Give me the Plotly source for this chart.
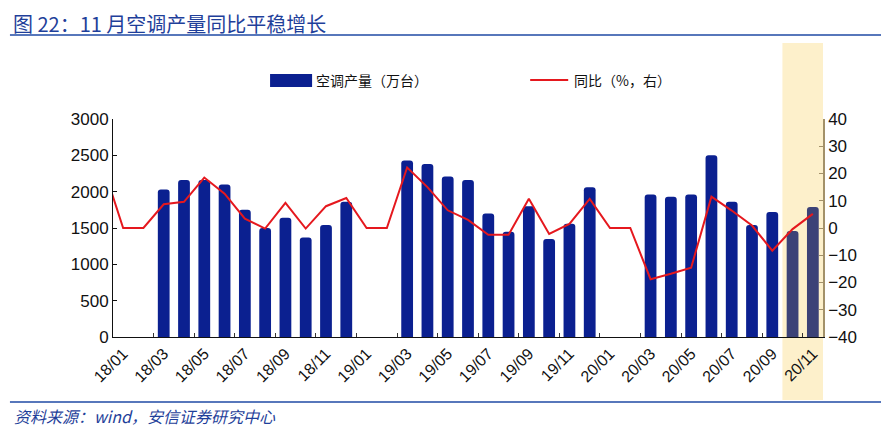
import plotly.graph_objects as go

# ---------------- data ----------------
months = ["17/12",
          "18/01", "18/02", "18/03", "18/04", "18/05", "18/06", "18/07", "18/08", "18/09", "18/10", "18/11", "18/12",
          "19/01", "19/02", "19/03", "19/04", "19/05", "19/06", "19/07", "19/08", "19/09", "19/10", "19/11", "19/12",
          "20/01", "20/02", "20/03", "20/04", "20/05", "20/06", "20/07", "20/08", "20/09", "20/10", "20/11"]

production = [None,
              None, None, 2030, 2160, 2160, 2100, 1750, 1500, 1640, 1370, 1540, 1860,
              None, None, 2430, 2380, 2210, 2160, 1700, 1450, 1800, 1350, 1560, 2060,
              None, None, 1960, 1930, 1960, 2500, 1860, 1540, 1720, 1460, 1790]

yoy = [23.0,
       0, 0, 8.7, 9.6, 18.5, 12.6, 3.4, -0.2, 9.2, -0.2, 8.0, 11.0,
       0, 0, 22.2, 15.0, 6.5, 3.0, -2.5, -2.5, 10.7, -2.2, 1.5, 10.7,
       0, 0, -18.8, -16.8, -14.6, 11.5, 6.4, 0.9, -8.3, -0.4, 5.2]

tick_labels = months[1::2]
highlight_months = ["20/10", "20/11"]

left_ticks = [0, 500, 1000, 1500, 2000, 2500, 3000]
right_ticks = [-40, -30, -20, -10, 0, 10, 20, 30, 40]

bar_name = "空调产量（万台）"
line_name = "同比（%，右）"
title_text = "图 22：11 月空调产量同比平稳增长"
source_text = "资料来源：wind，安信证券研究中心"

# ---------------- styles ----------------
BAR_COLOR = "#0b2090"
BAR_HL_COLOR = "#3c4277"
LINE_COLOR = "#e5181e"
BAND_COLOR = "#fdf0cb"
RIGHT_AXIS_COLOR = "#a39169"
BLUE_TEXT = "#1f3f9a"
LATIN = "Liberation Sans, Arial, sans-serif"
CJK = "Noto Sans CJK SC, sans-serif"

# the page body has an 8px margin; work in reference-pixel coordinates and shift
OFF = 8
W, H = 889 - OFF, 431 - OFF
PLOT_L, PLOT_R, PLOT_T, PLOT_B = 113, 822.7, 119, 337   # reference pixels
ML, MT = PLOT_L - OFF, PLOT_T - OFF
MR, MB = W - (PLOT_R - OFF), H - (PLOT_B - OFF)
PW, PH = PLOT_R - PLOT_L, PLOT_B - PLOT_T


def px(xp):
    return (xp - PLOT_L) / PW


def py(yp):
    return (PLOT_B - yp) / PH


bar_colors = [BAR_HL_COLOR if m in highlight_months else BAR_COLOR for m in months]

fig = go.Figure()
fig.add_trace(go.Bar(
    x=months, y=production, name=bar_name,
    marker=dict(color=bar_colors, cornerradius=3, line=dict(width=0)),
    showlegend=False,
))
fig.add_trace(go.Scatter(
    x=months, y=yoy, name=line_name, yaxis="y2", mode="lines",
    line=dict(color=LINE_COLOR, width=2),
    showlegend=False, cliponaxis=True,
))

hl_idx = [months.index(m) for m in highlight_months]
shapes = [
    dict(type="rect", xref="x", yref="paper",
         x0=min(hl_idx) - 0.5, x1=max(hl_idx) + 0.5,
         y0=py(400), y1=py(43), fillcolor=BAND_COLOR, line=dict(width=0), layer="below"),
    dict(type="line", xref="paper", yref="paper", x0=px(10), x1=px(881), y0=py(35), y1=py(35),
         line=dict(color="#1f4aa5", width=1.5)),
    dict(type="line", xref="paper", yref="paper", x0=px(10), x1=px(883), y0=py(402), y1=py(402),
         line=dict(color="#1f4aa5", width=1.5)),
    dict(type="rect", xref="paper", yref="paper", x0=px(270), x1=px(312), y0=py(87), y1=py(74),
         fillcolor=BAR_COLOR, line=dict(width=0)),
    dict(type="line", xref="paper", yref="paper", x0=px(530), x1=px(568), y0=py(80), y1=py(80),
         line=dict(color=LINE_COLOR, width=2)),
]

annotations = [
    dict(text=title_text, xref="paper", yref="paper", x=px(12), y=py(23), xanchor="left", yanchor="middle",
         showarrow=False, borderpad=0, font=dict(family=CJK, size=20, color=BLUE_TEXT)),
    dict(text="<i>" + source_text + "</i>", xref="paper", yref="paper", x=px(12), y=py(416),
         xanchor="left", yanchor="middle", showarrow=False,
         font=dict(family=CJK, size=16, color=BLUE_TEXT)),
    dict(text=bar_name, xref="paper", yref="paper", x=px(314), y=py(80), xanchor="left", yanchor="middle",
         showarrow=False, font=dict(family=CJK, size=14, color="#111111")),
    dict(text=line_name, xref="paper", yref="paper", x=px(572), y=py(80), xanchor="left", yanchor="middle",
         showarrow=False, font=dict(family=CJK, size=14, color="#111111")),
]

fig.update_layout(
    width=W, height=H, autosize=False,
    margin=dict(l=ML, r=MR, t=MT, b=MB, pad=0),
    paper_bgcolor="white", plot_bgcolor="rgba(0,0,0,0)",
    bargap=0.42, showlegend=False,
    shapes=shapes, annotations=annotations,
    font=dict(family=LATIN, size=16, color="#111111"),
    xaxis=dict(
        type="category", categoryorder="array", categoryarray=months,
        range=[0.5, len(months) - 0.5],
        tickvals=tick_labels, ticktext=tick_labels, tickangle=-45,
        tickson="boundaries", ticks="inside", ticklen=4, tickcolor="#333333",
        showline=True, linecolor="#111111", linewidth=1,
        showgrid=False, zeroline=False,
        tickfont=dict(family=LATIN, size=16, color="#111111"),
    ),
    yaxis=dict(
        range=[0, 3000], tickvals=left_ticks, ticks="inside", ticklen=4, tickcolor="#111111",
        showline=True, linecolor="#111111", linewidth=1,
        showgrid=False, zeroline=False,
        tickfont=dict(family=LATIN, size=17, color="#111111"),
    ),
    yaxis2=dict(
        overlaying="y", side="right", range=[-40, 40], tickvals=right_ticks,
        ticks="inside", ticklen=4, tickcolor=RIGHT_AXIS_COLOR,
        showline=True, linecolor=RIGHT_AXIS_COLOR, linewidth=1.5,
        showgrid=False, zeroline=False,
        tickfont=dict(family=LATIN, size=17, color="#111111"),
    ),
)

fig.write_html("out.html")
